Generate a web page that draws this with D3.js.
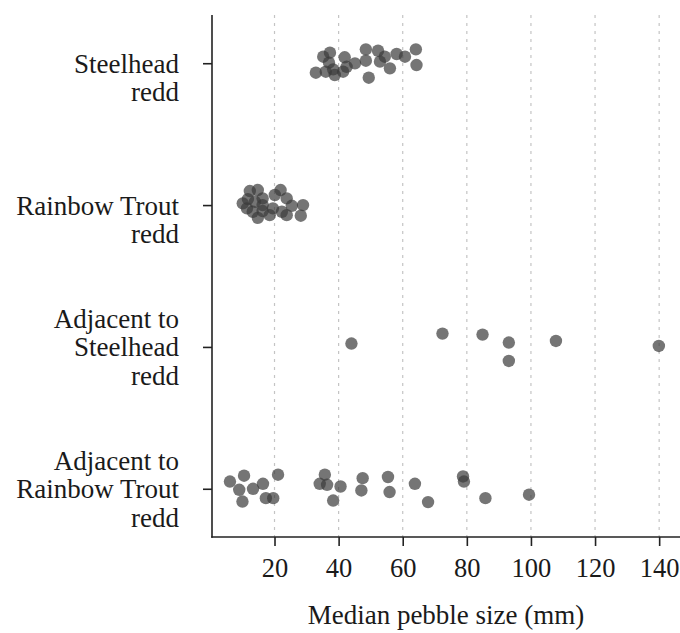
<!DOCTYPE html>
<html>
<head>
<meta charset="utf-8">
<script src="https://cdn.jsdelivr.net/npm/d3@7"></script>
<style>
  body { margin: 0; background: #fff; }
  text { font-family: "Liberation Serif", "Times New Roman", serif; fill: #1a1a1a; }
</style>
</head>
<body>
<div id="chart"></div>
<script>
// categories, top to bottom
var categories = ["Steelhead redd", "Rainbow Trout redd", "Adjacent to Steelhead redd", "Adjacent to Rainbow Trout redd"];
var categoryLines = [["Steelhead", "redd"], ["Rainbow Trout", "redd"], ["Adjacent to", "Steelhead", "redd"], ["Adjacent to", "Rainbow Trout", "redd"]];

// median pebble size (mm) per redd
var steelheadValues = [32.9, 35.2, 37.3, 37.0, 38.3, 36.0, 38.8, 41.9, 42.5, 41.4, 45.1, 48.5, 48.5, 49.4, 52.3, 52.9, 54.4, 56.0, 58.1, 60.7, 64.1, 64.3];
var rainbowValues = [12.3, 14.8, 11.7, 10.1, 13.9, 16.3, 21.9, 20.1, 23.8, 11.4, 13.2, 16.3, 19.5, 22.3, 28.9, 28.2, 14.8, 18.5, 23.8, 16.3, 25.4];
var adjSteelheadValues = [44.0, 72.4, 84.9, 93.1, 93.1, 107.8, 139.9];
var adjRainbowValues = [6.1, 10.5, 9.0, 10.0, 13.3, 16.4, 17.3, 19.6, 21.1, 35.7, 34.1, 36.4, 40.6, 38.3, 47.5, 47.1, 55.4, 55.9, 63.8, 67.9, 78.8, 79.1, 85.8, 99.4];

// vertical jitter of each point, as a fraction of the category step
var steelheadJitter = [0.067, -0.046, -0.074, -0.004, 0.043, 0.06, 0.083, -0.042, 0.025, 0.06, 0.001, -0.098, -0.018, 0.102, -0.088, -0.011, -0.046, 0.036, -0.065, -0.046, -0.098, 0.013];
var rainbowJitter = [-0.099, -0.106, -0.042, -0.012, -0.023, -0.047, -0.106, -0.071, -0.047, 0.023, 0.047, 0.042, 0.023, 0.047, 0, 0.075, 0.09, 0.071, 0.071, 0, 0.005];
var adjSteelheadJitter = [-0.024, -0.094, -0.087, -0.031, 0.099, -0.042, -0.007];
var adjRainbowJitter = [-0.051, -0.092, 0.007, 0.09, 0, -0.035, 0.066, 0.066, -0.099, -0.099, -0.035, -0.028, -0.016, 0.083, -0.075, 0.012, -0.083, 0.023, -0.035, 0.094, -0.087, -0.051, 0.066, 0.042];

var xTicks = [20, 40, 60, 80, 100, 120, 140];
var xTitle = "Median pebble size (mm)";

var allValues = [steelheadValues, rainbowValues, adjSteelheadValues, adjRainbowValues];
var allJitter = [steelheadJitter, rainbowJitter, adjSteelheadJitter, adjRainbowJitter];

var width = 680, height = 633;
var margin = {top: 15, right: 0, bottom: 96, left: 212};

var svg = d3.select("#chart").append("svg")
  .attr("width", width)
  .attr("height", height);

var x = d3.scaleLinear()
  .domain([0.5, 146.5])
  .range([margin.left, width - margin.right]);

var y = d3.scalePoint()
  .domain(categories)
  .range([margin.top, height - margin.bottom])
  .padding(0.34);

var points = [];
allValues.forEach(function(vals, i) {
  vals.forEach(function(v, j) {
    points.push({cat: categories[i], value: v, jitter: allJitter[i][j]});
  });
});

// dashed vertical grid
svg.append("g")
  .selectAll("line")
  .data(xTicks)
  .enter()
  .append("line")
  .attr("x1", function(d) { return x(d); })
  .attr("x2", function(d) { return x(d); })
  .attr("y1", margin.top)
  .attr("y2", height - margin.bottom)
  .attr("stroke", "#c4c4c4")
  .attr("stroke-width", 1.2)
  .attr("stroke-dasharray", "3,5");

// points
svg.append("g")
  .selectAll("circle")
  .data(points)
  .enter()
  .append("circle")
  .attr("cx", function(d) { return x(d.value); })
  .attr("cy", function(d) { return y(d.cat) + d.jitter * y.step(); })
  .attr("r", 6.2)
  .attr("fill", "#3a3a3a")
  .attr("fill-opacity", 0.7);

// x axis
var xAxis = svg.append("g")
  .attr("transform", "translate(0," + (height - margin.bottom) + ")")
  .call(d3.axisBottom(x).tickValues(xTicks).tickSize(9).tickPadding(12).tickSizeOuter(0));
xAxis.select(".domain").attr("stroke", "#222").attr("stroke-width", 1.6)
  .attr("d", "M" + (margin.left - 0.8) + ",0H" + width);
xAxis.selectAll(".tick line").attr("stroke", "#222").attr("stroke-width", 1.6);
xAxis.selectAll(".tick text")
  .style("font-family", "'Liberation Serif', 'Times New Roman', serif")
  .style("font-size", "26.5px")
  .attr("fill", "#1a1a1a");

// y axis
var yAxis = svg.append("g")
  .attr("transform", "translate(" + margin.left + ",0)")
  .call(d3.axisLeft(y).tickSize(9).tickFormat("").tickSizeOuter(0));
yAxis.select(".domain").attr("stroke", "#222").attr("stroke-width", 1.6)
  .attr("d", "M0," + margin.top + "V" + (height - margin.bottom + 0.8));
yAxis.selectAll(".tick line").attr("stroke", "#222").attr("stroke-width", 1.6);

// multi-line category labels
var lineHeight = 28.5;
svg.append("g")
  .selectAll("text")
  .data(categories)
  .enter()
  .append("text")
  .attr("text-anchor", "end")
  .style("font-size", "27px")
  .each(function(d, i) {
    var lines = categoryLines[i];
    var first = -Math.floor((lines.length - 1) / 2);
    var t = d3.select(this);
    lines.forEach(function(line, k) {
      t.append("tspan")
        .attr("x", 179)
        .attr("y", y(d) + (first + k) * lineHeight)
        .attr("dy", "0.35em")
        .text(line);
    });
  });

// x title
svg.append("text")
  .attr("x", x(73.5))
  .attr("y", 624)
  .attr("text-anchor", "middle")
  .style("font-size", "27px")
  .text(xTitle);
</script>
</body>
</html>
